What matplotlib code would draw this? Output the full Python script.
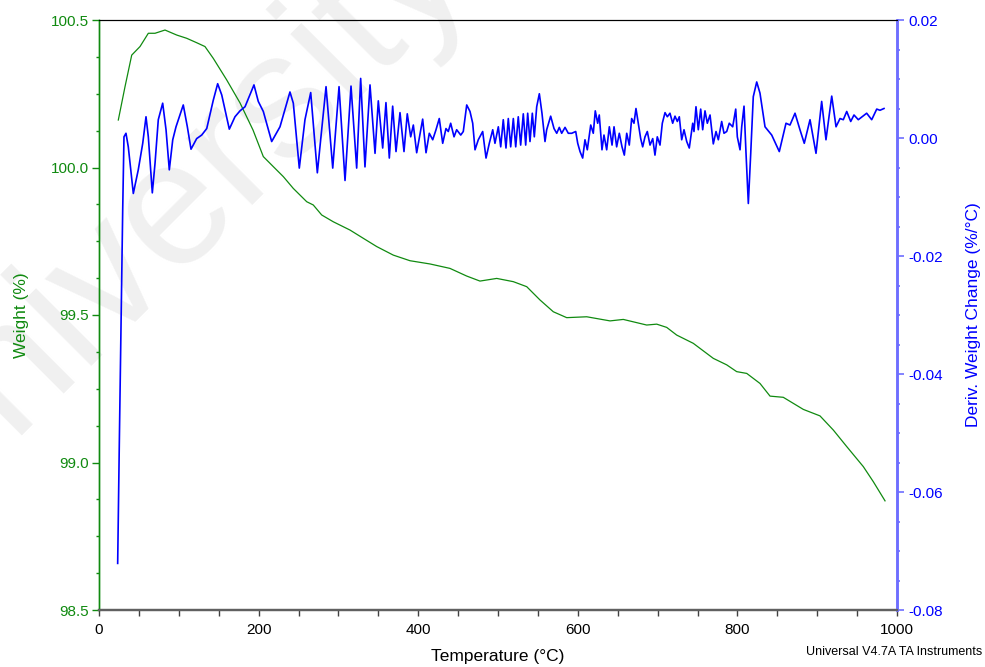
import matplotlib
matplotlib.use("Agg")
import matplotlib.pyplot as plt
from matplotlib.ticker import MultipleLocator, FormatStrFormatter

plt.rcParams['font.family'] = ['Liberation Sans', 'DejaVu Sans']
plt.rcParams['axes.unicode_minus'] = False

# ---- TGA weight curve ----
weight_temp = [24.2, 32.6, 41.0, 51.4, 61.8, 70.2, 82.7, 97.4, 109.9, 122.4,
               132.8, 143.2, 160.0, 176.7, 193.0, 205.9, 218.4, 231.0, 243.5, 260.3,
               268.5, 279.1, 293.6, 314.5, 331.2, 348.0, 368.8, 389.7, 414.8, 439.8,
               460.8, 477.4, 498.4, 519.2, 536.0, 552.6, 569.3, 586.1, 611.2, 640.4,
               657.0, 686.3, 698.9, 711.4, 723.9, 744.7, 769.8, 786.6, 799.1, 811.7,
               828.3, 840.9, 857.5, 882.6, 903.5, 920.2, 937.0, 957.8, 970.3, 985.0]
weight_pct = [100.161, 100.274, 100.381, 100.410, 100.455, 100.455, 100.466, 100.449, 100.438, 100.423,
              100.410, 100.370, 100.297, 100.219, 100.127, 100.037, 100.003, 99.969, 99.929, 99.884,
              99.873, 99.839, 99.816, 99.788, 99.760, 99.732, 99.703, 99.684, 99.673, 99.658,
              99.632, 99.615, 99.624, 99.613, 99.596, 99.551, 99.511, 99.491, 99.494, 99.480,
              99.485, 99.466, 99.469, 99.458, 99.432, 99.404, 99.353, 99.331, 99.308, 99.302,
              99.268, 99.225, 99.221, 99.180, 99.158, 99.110, 99.054, 98.986, 98.935, 98.870]

# ---- Derivative weight change ----
deriv_temp = [23.4, 25.4, 29.7, 31.3, 33.8, 36.7, 43.0, 49.2, 54.8, 58.9,
              61.8, 66.8, 70.2, 74.3, 79.8, 84.0, 88.1, 92.4, 96.5, 105.6,
              110.7, 115.3, 122.4, 128.7, 135.0, 143.2, 148.7, 153.8, 163.3, 170.4,
              176.7, 183.0, 194.2, 199.6, 205.9, 216.4, 226.8, 239.3, 243.5, 251.0,
              258.1, 265.3, 273.6, 284.5, 292.9, 300.8, 308.3, 315.8, 322.9, 327.9,
              333.3, 339.6, 345.9, 350.0, 355.5, 359.6, 363.8, 368.0, 372.2, 377.2,
              382.2, 386.3, 390.6, 393.9, 398.1, 405.6, 409.8, 413.9, 418.2, 422.3,
              426.4, 430.7, 434.8, 437.7, 440.7, 444.9, 448.2, 453.3, 456.5, 460.8,
              464.9, 468.3, 471.2, 475.3, 480.8, 485.0, 489.1, 493.4, 496.2, 500.4,
              503.4, 506.6, 510.0, 512.9, 515.9, 519.2, 522.2, 525.4, 528.4, 531.7,
              534.7, 537.2, 540.1, 543.0, 545.5, 548.5, 551.8, 555.1, 558.9, 561.0,
              566.0, 570.2, 573.6, 576.8, 579.8, 584.0, 588.1, 592.4, 597.4, 599.9,
              602.8, 606.1, 609.0, 611.9, 616.2, 619.4, 621.9, 624.9, 626.9, 630.3,
              632.8, 636.2, 639.5, 642.9, 645.4, 648.7, 652.0, 655.4, 658.3, 661.3,
              664.5, 667.5, 670.4, 672.9, 675.8, 678.8, 681.3, 684.2, 687.1, 690.5,
              693.9, 696.7, 699.6, 703.0, 705.9, 709.3, 712.2, 715.5, 718.9, 721.8,
              724.7, 727.2, 730.2, 733.1, 736.5, 739.7, 744.0, 745.6, 748.1, 751.0,
              754.0, 756.5, 759.4, 762.3, 765.7, 769.8, 773.2, 776.1, 780.3, 783.2,
              786.6, 789.8, 794.1, 797.9, 799.9, 803.3, 805.4, 808.3, 810.8, 813.7,
              816.7, 819.9, 824.2, 828.3, 834.6, 843.0, 852.5, 860.9, 865.9, 872.2,
              878.4, 883.8, 891.0, 898.5, 905.6, 911.0, 918.2, 923.6, 928.6, 932.7,
              937.0, 942.0, 946.1, 951.5, 962.0, 968.3, 974.6, 978.7, 983.7]
deriv_val = [-0.0721, -0.0523, -0.0122, 0.0002, 0.0008, -0.0015, -0.0094, -0.0054, -0.0009, 0.0036,
             0.0002, -0.0093, -0.0043, 0.0031, 0.0059, 0.0014, -0.0054, -0.0003, 0.0019, 0.0056,
             0.0019, -0.0019, -0.0001, 0.0005, 0.0016, 0.0064, 0.0092, 0.0073, 0.0015, 0.0036,
             0.0046, 0.0053, 0.0090, 0.0062, 0.0045, -0.0006, 0.0019, 0.0078, 0.0059, -0.0051,
             0.0031, 0.0077, -0.0059, 0.0087, -0.0051, 0.0087, -0.0072, 0.0088, -0.0051, 0.0101,
             -0.0049, 0.0090, -0.0026, 0.0063, -0.0017, 0.0060, -0.0034, 0.0054, -0.0023, 0.0043,
             -0.0023, 0.0041, 0.0002, 0.0022, -0.0025, 0.0032, -0.0025, 0.0008, -0.0003, 0.0014,
             0.0033, -0.0009, 0.0016, 0.0011, 0.0025, 0.0002, 0.0014, 0.0005, 0.0011, 0.0056,
             0.0045, 0.0025, -0.0020, -0.0003, 0.0011, -0.0034, -0.0009, 0.0014, -0.0009, 0.0019,
             -0.0015, 0.0031, -0.0017, 0.0033, -0.0015, 0.0033, -0.0015, 0.0036, -0.0012, 0.0041,
             -0.0012, 0.0042, -0.0006, 0.0042, 0.0002, 0.0053, 0.0075, 0.0042, -0.0006, 0.0014,
             0.0037, 0.0016, 0.0008, 0.0018, 0.0008, 0.0018, 0.0008, 0.0008, 0.0011, -0.0009,
             -0.0023, -0.0034, -0.0003, -0.0020, 0.0022, 0.0008, 0.0046, 0.0025, 0.0039, -0.0020,
             0.0005, -0.0020, 0.0019, -0.0012, 0.0019, -0.0015, 0.0008, -0.0015, -0.0029, 0.0008,
             -0.0012, 0.0033, 0.0025, 0.0050, 0.0025, -0.0001, -0.0015, 0.0002, 0.0011, -0.0012,
             -0.0001, -0.0029, 0.0002, -0.0012, 0.0025, 0.0043, 0.0036, 0.0042, 0.0025, 0.0037,
             0.0028, 0.0036, -0.0003, 0.0014, -0.0006, -0.0017, 0.0025, 0.0011, 0.0053, 0.0014,
             0.0049, 0.0014, 0.0046, 0.0025, 0.0039, -0.0010, 0.0011, -0.0003, 0.0028, 0.0008,
             0.0011, 0.0025, 0.0019, 0.0049, 0.0002, -0.0020, 0.0019, 0.0054, -0.0026, -0.0111,
             -0.0026, 0.0070, 0.0095, 0.0076, 0.0019, 0.0005, -0.0023, 0.0025, 0.0022, 0.0042,
             0.0014, -0.0009, 0.0031, -0.0026, 0.0062, -0.0003, 0.0071, 0.0019, 0.0033, 0.0031,
             0.0045, 0.0028, 0.0039, 0.0031, 0.0042, 0.0031, 0.0049, 0.0047, 0.0050]

GREEN = '#108a10'
BLUE = '#0000ff'
BLUE_SPINE = '#6e6eff'

fig = plt.figure(figsize=(9.85, 6.67), dpi=100)
fig.patch.set_facecolor('white')

# faint background watermark
fig.text(0.165, 0.675, 'University', fontsize=128, color='#f0f0f0',
         rotation=45, ha='center', va='center', rotation_mode='anchor', zorder=-5)

ax1 = fig.add_axes([99 / 985, 1 - 610 / 667, 798 / 985, 590 / 667])
ax1.patch.set_alpha(0)
ax2 = ax1.twinx()
ax2.patch.set_alpha(0)

ax1.plot(weight_temp, weight_pct, color=GREEN, lw=0.9, zorder=3)
ax2.plot(deriv_temp, deriv_val, color=BLUE, lw=1.2, solid_joinstyle='round')

ax1.set_xlim(0, 1000)
ax1.set_ylim(98.5, 100.5)
ax2.set_ylim(-0.08, 0.02)

ax1.xaxis.set_major_locator(MultipleLocator(200))
ax1.xaxis.set_minor_locator(MultipleLocator(50))
ax1.yaxis.set_major_locator(MultipleLocator(0.5))
ax1.yaxis.set_minor_locator(MultipleLocator(0.125))
ax1.yaxis.set_major_formatter(FormatStrFormatter('%.1f'))
ax2.yaxis.set_major_locator(MultipleLocator(0.02))
ax2.yaxis.set_minor_locator(MultipleLocator(0.005))
ax2.yaxis.set_major_formatter(FormatStrFormatter('%.2f'))

# spines
for ax in (ax1, ax2):
    ax.spines['top'].set_color('black')
    ax.spines['top'].set_linewidth(0.8)
    ax.spines['bottom'].set_color('#606060')
    ax.spines['bottom'].set_linewidth(1.6)
    ax.spines['left'].set_color(GREEN)
    ax.spines['left'].set_linewidth(1.0)
    ax.spines['right'].set_color(BLUE_SPINE)
    ax.spines['right'].set_linewidth(1.8)

ax1.tick_params(axis='x', which='major', direction='out', length=4, width=1,
                color='#404040', labelsize=11, pad=5, labelcolor='black')
ax1.tick_params(axis='x', which='minor', direction='out', length=4, width=1, color='#404040')
ax1.tick_params(axis='y', which='major', direction='out', length=5, width=1,
                color=GREEN, labelcolor=GREEN, labelsize=11, pad=2)
ax1.tick_params(axis='y', which='minor', direction='out', length=2.5, width=1, color=GREEN)
ax2.tick_params(axis='y', which='major', direction='out', length=5, width=1.2,
                color=BLUE_SPINE, labelcolor=BLUE, labelsize=11, pad=3)
ax2.tick_params(axis='y', which='minor', direction='out', length=2.5, width=1.2, color=BLUE_SPINE)

ax1.set_xlabel('Temperature (°C)', fontsize=12.5, color='black', labelpad=9)
ax1.set_ylabel('Weight (%)', fontsize=12.5, color=GREEN)
ax1.yaxis.set_label_coords(-0.088, 0.5)
ax2.set_ylabel('Deriv. Weight Change (%/°C)', fontsize=12.5, color=BLUE)
ax2.yaxis.set_label_coords(1.086, 0.5)

fig.text(982 / 985, 1 - 652 / 667, 'Universal V4.7A TA Instruments', fontsize=9,
         color='black', ha='right', va='center')

fig.savefig('out.png', dpi=100, facecolor='white')
